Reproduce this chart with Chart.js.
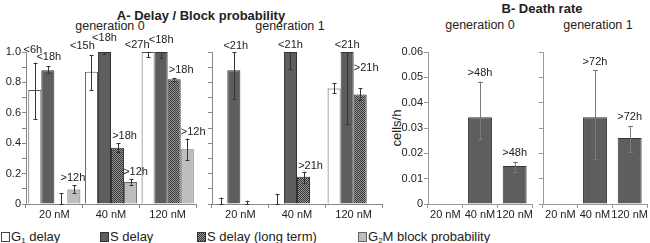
<!DOCTYPE html>
<html lang="en">
<head>
<meta charset="UTF-8">
<title>Delay / Block probability - Death rate</title>
<script src="https://cdn.jsdelivr.net/npm/chart.js"></script>
<style>
  body { margin: 0; width: 650px; height: 243px; position: relative; overflow: hidden;
         background: #fff; color: #222; font-family: "Liberation Sans", Arial, sans-serif; }
  canvas { position: absolute; top: 0; }
  .txt { position: absolute; white-space: nowrap; line-height: 1; transform: translate(-50%, -50%); }
  .title { font-weight: bold; font-size: 13px; }
  .gen { font-size: 12.5px; }
  .ylab { font-size: 13px; transform: translate(-50%, -50%) rotate(-90deg); }
  .leg { position: absolute; top: 230px; font-size: 13px; line-height: 14px; white-space: nowrap; }
  .leg i { display: inline-block; width: 7px; height: 8px; border: 1px solid #444; margin-right: 1px; vertical-align: -1px; }
  .leg sub { font-size: 8px; vertical-align: -2px; }
</style>
</head>
<body>

<div class="txt title" style="left:201px; top:15px">A- Delay / Block probability</div>
<div class="txt title" style="left:542px; top:8px">B- Death rate</div>
<div class="txt gen" style="left:110px; top:26px">generation 0</div>
<div class="txt gen" style="left:290px; top:26px">generation 1</div>
<div class="txt gen" style="left:480px; top:25px">generation 0</div>
<div class="txt gen" style="left:598px; top:25px">generation 1</div>
<div class="txt ylab" style="left:396px; top:128px">cells/h</div>

<canvas id="a0" width="212" height="224" style="left:0px"></canvas>
<canvas id="a1" width="190" height="224" style="left:202px"></canvas>
<canvas id="b0" width="140" height="224" style="left:395px"></canvas>
<canvas id="b1" width="115" height="224" style="left:535px"></canvas>

<div class="leg" style="left:1px"><i style="background:#fff"></i>G<sub>1</sub> delay</div>
<div class="leg" style="left:100px"><i style="background:#5e5e5e;border-color:#333"></i>S delay</div>
<div class="leg" style="left:197px"><i style="background:repeating-conic-gradient(#333 0 25%, #9a9a9a 0 50%) 0 0/2px 2px;border-color:#333"></i>S delay (long term)</div>
<div class="leg" style="left:358px"><i style="background:#bdbdbd;border-color:#666"></i>G<sub>2</sub>M block probability</div>

<script>
  // ---- data ----
  const categories = ['20 nM', '40 nM', '120 nM'];

  // A - generation 0
  const g0G1 = [0.75, 0.87, 1.0];
  const g0G1Lo = [0.56, 0.75, 0.965];
  const g0G1Hi = [0.93, 0.98, 1.0];
  const g0G1Tags = ['<6h', '<15h', '<27h'];

  const g0S = [0.88, 1.0, 1.0];
  const g0SLo = [0.86, 0.985, 0.96];
  const g0SHi = [0.905, 1.0, 1.0];
  const g0STags = ['<18h', '<18h', '<18h'];

  const g0SL = [0, 0.37, 0.82];
  const g0SLLo = [0, 0.34, 0.81];
  const g0SLHi = [0.07, 0.40, 0.83];
  const g0SLTags = ['', '>18h', '>18h'];

  const g0G2M = [0.095, 0.145, 0.36];
  const g0G2MLo = [0.07, 0.125, 0.29];
  const g0G2MHi = [0.125, 0.165, 0.43];
  const g0G2MTags = ['>12h', '>12h', '>12h'];

  // A - generation 1
  const g1G1 = [0, 0, 0.76];
  const g1G1Lo = [0, 0, 0.73];
  const g1G1Hi = [0.042, 0.064, 0.795];

  const g1S = [0.88, 1.0, 1.0];
  const g1SLo = [0.69, 0.885, 0.525];
  const g1SHi = [1.0, 1.0, 1.0];
  const g1STags = ['<21h', '<21h', '<21h'];

  const g1SL = [0, 0.18, 0.72];
  const g1SLLo = [0, 0.136, 0.686];
  const g1SLHi = [0.022, 0.213, 0.763];
  const g1SLTags = ['', '>21h', '>21h'];

  const g1G2M = [null, null, null];

  // B - death rate (cells/h)
  const d0 = [null, 0.0342, 0.015];
  const d0Lo = [null, 0.0255, 0.0128];
  const d0Hi = [null, 0.0483, 0.0167];
  const d0Tags = ['', '>48h', '>48h'];

  const d1 = [null, 0.0342, 0.0261];
  const d1Lo = [null, 0.0179, 0.0206];
  const d1Hi = [null, 0.0528, 0.0306];
  const d1Tags = ['', '>72h', '>72h'];

  // ---- style ----
  const FONT = '"Liberation Sans", Arial, sans-serif';
  Chart.defaults.font.family = FONT;
  Chart.defaults.color = '#222';

  // checkered fill for "S delay (long term)"
  const pc = document.createElement('canvas');
  pc.width = 2; pc.height = 2;
  const pctx = pc.getContext('2d');
  pctx.fillStyle = '#9a9a9a'; pctx.fillRect(0, 0, 2, 2);
  pctx.fillStyle = '#333'; pctx.fillRect(0, 0, 1, 1); pctx.fillRect(1, 1, 1, 1);
  const checker = pctx.createPattern(pc, 'repeat');

  const STYLE = {
    g1: { backgroundColor: '#ffffff', borderColor: '#555', borderWidth: 1 },
    s: { backgroundColor: '#5e5e5e', borderColor: '#333', borderWidth: 1 },
    sl: { backgroundColor: checker, borderColor: '#333', borderWidth: 1 },
    g2m: { backgroundColor: '#bdbdbd', borderColor: '#666', borderWidth: 1 }
  };

  // error bars + text above bars
  const annotate = {
    id: 'annotate',
    afterDatasetsDraw(chart, args, opts) {
      const ctx = chart.ctx, ys = chart.scales.y;
      ctx.save();
      chart.data.datasets.forEach((ds, di) => {
        const meta = chart.getDatasetMeta(di);
        meta.data.forEach((bar, i) => {
          if (ds.data[i] == null) return;
          const x = Math.round(bar.x) + 0.5;
          let top = ys.getPixelForValue(ds.data[i]);
          if (ds.errHigh) {
            const yl = ys.getPixelForValue(ds.errLow[i]);
            const yh = ys.getPixelForValue(ds.errHigh[i]);
            top = Math.min(top, yh);
            ctx.strokeStyle = opts.errColor;
            ctx.lineWidth = 1;
            ctx.beginPath();
            ctx.moveTo(x, yl); ctx.lineTo(x, yh);
            ctx.moveTo(x - opts.cap, Math.round(yh) + 0.5); ctx.lineTo(x + opts.cap, Math.round(yh) + 0.5);
            ctx.moveTo(x - opts.cap, Math.round(yl) + 0.5); ctx.lineTo(x + opts.cap, Math.round(yl) + 0.5);
            ctx.stroke();
          }
          const tag = ds.tags && ds.tags[i];
          if (tag) {
            const sh = (ds.tagShift && ds.tagShift[i]) || [0, 0];
            ctx.fillStyle = '#222';
            ctx.font = '11px ' + FONT;
            ctx.textAlign = 'center';
            ctx.textBaseline = 'middle';
            ctx.fillText(tag, bar.x + sh[0], top - 7 + sh[1]);
          }
        });
      });
      ctx.restore();
    }
  };

  function scalesFor(max, step, yWidth, showY, fmt, axisColor) {
    return {
      x: {
        offset: true,
        grid: { offset: true, drawOnChartArea: false, drawTicks: true, tickLength: 4, color: axisColor },
        border: { color: axisColor },
        ticks: { font: { size: 11 }, padding: 0, autoSkip: false, maxRotation: 0, color: '#222' },
        afterFit(s) { s.height = 20; }
      },
      y: {
        min: 0, max: max,
        grid: { drawOnChartArea: false, drawTicks: true, tickLength: 4, color: axisColor },
        border: { color: axisColor },
        ticks: { stepSize: step, display: showY, font: { size: 11 }, padding: 1, color: '#222',
                 autoSkip: false, callback: fmt },
        afterFit(s) { s.width = yWidth; }
      }
    };
  }

  function fmtA(v) {
    const k = Math.round(v * 10);
    if (k % 2) return '';
    return k === 0 ? '0' : (k / 10).toFixed(1);
  }
  function fmtB(v) {
    const k = Math.round(v * 100);
    return k === 0 ? '0' : (k / 100).toFixed(2);
  }

  function barChart(id, datasets, scales, padRight, annot, catPct) {
    return new Chart(document.getElementById(id), {
      type: 'bar',
      data: { labels: categories, datasets: datasets },
      options: {
        responsive: false,
        animation: false,
        layout: { padding: { top: 52, right: padRight, left: 0, bottom: 0 } },
        datasets: { bar: { categoryPercentage: catPct, barPercentage: 1.0 } },
        plugins: { legend: { display: false }, tooltip: { enabled: false }, annotate: annot },
        scales: scales
      },
      plugins: [annotate]
    });
  }

  const annotA = { errColor: '#333', cap: 2 };
  const annotB = { errColor: '#7a7a7a', cap: 2.5 };

  barChart('a0', [
    { label: 'G1 delay', data: g0G1, errLow: g0G1Lo, errHigh: g0G1Hi, tags: g0G1Tags,
      tagShift: [[-2, -6], [-9, -2], [-11, 0]], ...STYLE.g1 },
    { label: 'S delay', data: g0S, errLow: g0SLo, errHigh: g0SHi, tags: g0STags,
      tagShift: [[1, -2], [0, -7], [0, -5]], ...STYLE.s },
    { label: 'S delay (long term)', data: g0SL, errLow: g0SLLo, errHigh: g0SLHi, tags: g0SLTags,
      tagShift: [[0, 0], [7, 0], [7, -1]], ...STYLE.sl },
    { label: 'G2M block probability', data: g0G2M, errLow: g0G2MLo, errHigh: g0G2MHi, tags: g0G2MTags,
      tagShift: [[-1, 0], [5, 0], [6, 0]], ...STYLE.g2m }
  ], scalesFor(1, 0.1, 26, true, fmtA, '#888'), 16, annotA, 0.92);

  barChart('a1', [
    { label: 'G1 delay', data: g1G1, errLow: g1G1Lo, errHigh: g1G1Hi, ...STYLE.g1 },
    { label: 'S delay', data: g1S, errLow: g1SLo, errHigh: g1SHi, tags: g1STags,
      tagShift: [[2, 1], [0, 0], [0, 0]], ...STYLE.s },
    { label: 'S delay (long term)', data: g1SL, errLow: g1SLLo, errHigh: g1SLHi, tags: g1SLTags,
      tagShift: [[0, 0], [7, 1], [6, -13]], ...STYLE.sl },
    { label: 'G2M block probability', data: g1G2M, ...STYLE.g2m }
  ], scalesFor(1, 0.1, 10, false, fmtA, '#888'), 10, annotA, 0.92);

  barChart('b0', [
    { label: 'cells/h', data: d0, errLow: d0Lo, errHigh: d0Hi, tags: d0Tags,
      tagShift: [[0, 0], [0, -2], [0, -2]], ...STYLE.s }
  ], scalesFor(0.06, 0.01, 33, true, fmtB, '#999'), 3, annotB, 0.69);

  barChart('b1', [
    { label: 'cells/h', data: d1, errLow: d1Lo, errHigh: d1Hi, tags: d1Tags,
      tagShift: [[0, 0], [0, -1], [0, -3]], ...STYLE.s }
  ], scalesFor(0.06, 0.01, 8, false, fmtB, '#999'), 3, annotB, 0.69);
</script>
</body>
</html>
